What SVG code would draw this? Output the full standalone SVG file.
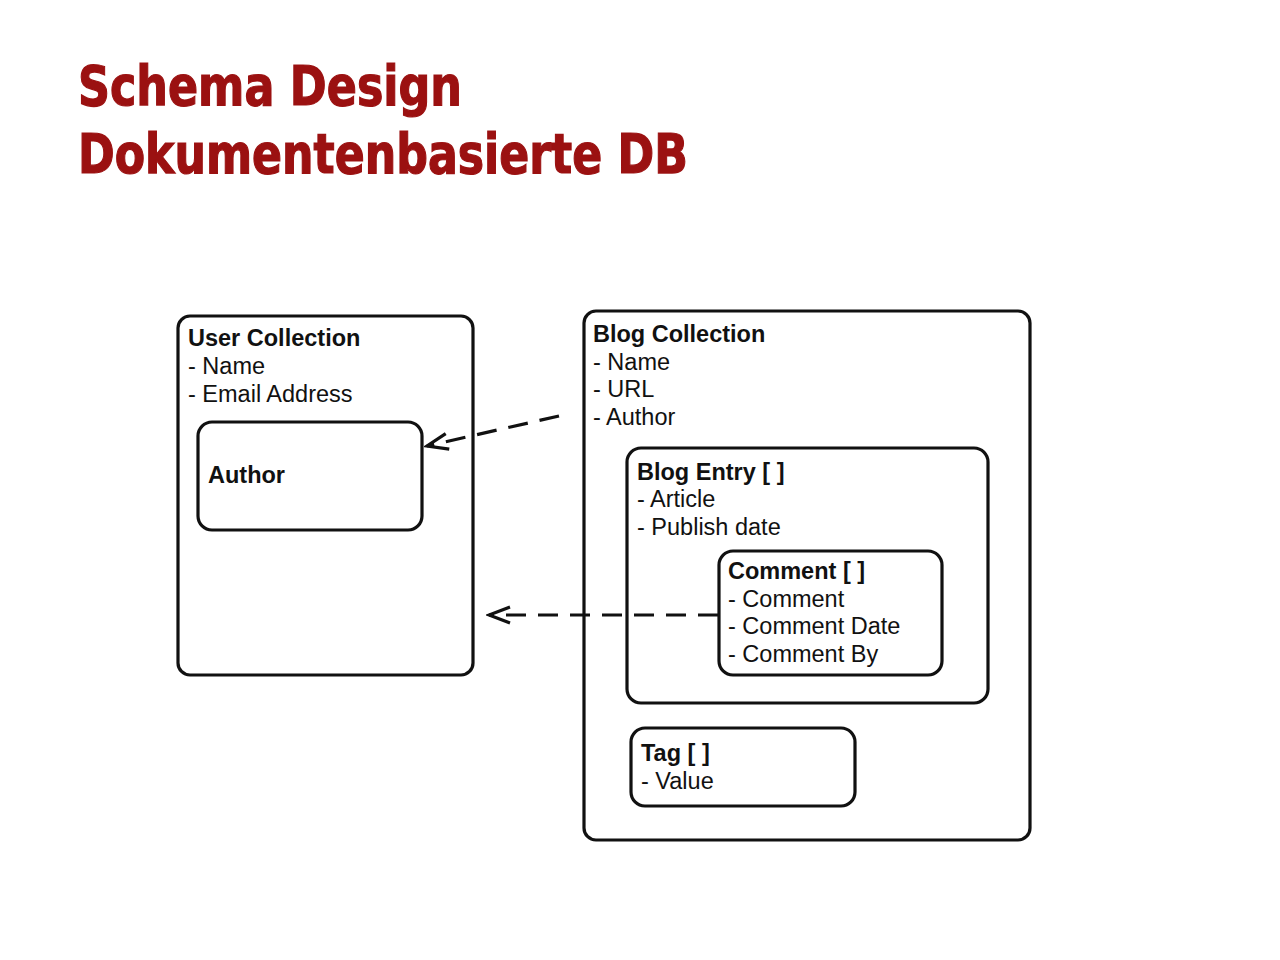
<svg xmlns="http://www.w3.org/2000/svg" width="1280" height="960" viewBox="0 0 1280 960">
<style>
.title{font-family:"DejaVu Sans Condensed","DejaVu Sans","Liberation Sans",sans-serif;font-weight:bold;font-size:56px;fill:#9b1111;stroke:#9b1111;stroke-width:1.2}
.box{fill:none;stroke:#111;stroke-width:3.2}
.h{font-family:"Liberation Sans",Arial,sans-serif;font-weight:bold;font-size:23.5px;fill:#111}
.t{font-family:"Liberation Sans",Arial,sans-serif;font-size:23.5px;fill:#111}
.dash{fill:none;stroke:#111;stroke-width:3.2;stroke-dasharray:20,12}
</style>
<defs>
<marker id="arr" viewBox="0 0 26 22" refX="23" refY="11" markerWidth="26" markerHeight="22" markerUnits="userSpaceOnUse" orient="auto">
<path d="M2,3 L23,11 L2,19" fill="none" stroke="#111" stroke-width="3.2"/>
</marker>
</defs>
<rect width="1280" height="960" fill="#fff"/>
<g id="title">
<text class="title" x="78" y="105" textLength="384" lengthAdjust="spacingAndGlyphs">Schema Design</text>
<text class="title" x="78" y="173" textLength="610" lengthAdjust="spacingAndGlyphs">Dokumentenbasierte DB</text>
</g>
<g id="user-collection">
<rect class="box" x="178" y="316" width="295" height="359" rx="12"/>
<text class="h" x="188" y="346">User Collection</text>
<text class="t" x="188" y="374">- Name</text>
<text class="t" x="188" y="402">- Email Address</text>
</g>
<g id="author">
<rect class="box" x="198" y="422" width="224" height="108" rx="14"/>
<text class="h" x="208" y="483">Author</text>
</g>
<g id="blog-collection">
<rect class="box" x="584" y="311" width="446" height="529" rx="12"/>
<text class="h" x="593" y="342">Blog Collection</text>
<text class="t" x="593" y="370">- Name</text>
<text class="t" x="593" y="397">- URL</text>
<text class="t" x="593" y="425">- Author</text>
</g>
<g id="blog-entry">
<rect class="box" x="627" y="448" width="361" height="255" rx="14"/>
<text class="h" x="637" y="480">Blog Entry [ ]</text>
<text class="t" x="637" y="507">- Article</text>
<text class="t" x="637" y="535">- Publish date</text>
</g>
<g id="comment">
<rect class="box" x="719" y="551" width="223" height="124" rx="14"/>
<text class="h" x="728" y="579">Comment [ ]</text>
<text class="t" x="728" y="607">- Comment</text>
<text class="t" x="728" y="634">- Comment Date</text>
<text class="t" x="728" y="662">- Comment By</text>
</g>
<g id="tag">
<rect class="box" x="631" y="728" width="224" height="78" rx="14"/>
<text class="h" x="641" y="761">Tag [ ]</text>
<text class="t" x="641" y="789">- Value</text>
</g>
<g id="connectors">
<line class="dash" x1="559" y1="416" x2="427" y2="446" marker-end="url(#arr)"/>
<line class="dash" x1="718" y1="615" x2="489" y2="615" marker-end="url(#arr)"/>
</g>
</svg>
